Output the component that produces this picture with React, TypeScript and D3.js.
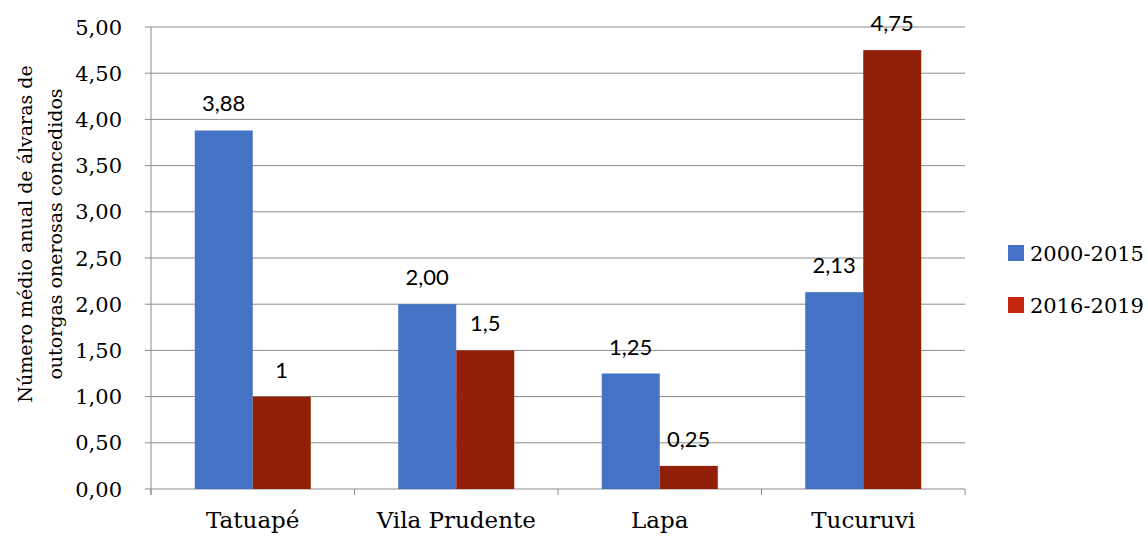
import React from "react";
import * as d3 from "d3";

const categories = ["Tatuapé", "Vila Prudente", "Lapa", "Tucuruvi"];
const series = ["2000-2015", "2016-2019"];
const values2000 = [3.88, 2.0, 1.25, 2.13];
const values2016 = [1, 1.5, 0.25, 4.75];
const labels2000 = ["3,88", "2,00", "1,25", "2,13"];
const labels2016 = ["1", "1,5", "0,25", "4,75"];
const yTicks = [0, 0.5, 1, 1.5, 2, 2.5, 3, 3.5, 4, 4.5, 5];

const W = 1148;
const H = 540;
const left = 151;
const right = 965;
const top = 27;
const bottom = 489;
const barColors = ["#4472C4", "#922008"];
const legendColors = ["#4472C4", "#C5260E"];
const serif = "'Palatino Linotype', 'Book Antiqua', 'DejaVu Serif', serif";
const sans = "Lato, 'Open Sans', sans-serif";

export default function App() {
  const x = d3.scaleBand<string>().domain(categories).range([left, right]).paddingInner(0).paddingOuter(0);
  const y = d3.scaleLinear().domain([0, 5]).range([bottom, top]);
  const inner = d3.scaleBand<string>().domain(series).range([0, x.bandwidth()]).paddingOuter(0.754).paddingInner(0);
  const data = [values2000, values2016];
  const labels = [labels2000, labels2016];
  const fmt = (v: number) => v.toFixed(2).replace(".", ",");
  const grid = "#8C8C8C";

  return (
    <svg width={W} height={H} style={{ position: "absolute", left: 0, top: 0, background: "#fff" }}>
      <rect x={0} y={0} width={W} height={H} fill="#fff" />
      {yTicks.map((t) => (
        <g key={t}>
          <line x1={left - 6} x2={right} y1={y(t)} y2={y(t)} stroke={grid} strokeWidth={1} />
          <text x={122} y={y(t)} dy="0.36em" textAnchor="end" fontFamily={serif} fontSize={21} fill="#000">
            {fmt(t)}
          </text>
        </g>
      ))}
      <line x1={left} x2={left} y1={top} y2={bottom + 6} stroke={grid} strokeWidth={1} />
      {categories.map((c, i) => (
        <line key={"t" + i} x1={x(c)!} x2={x(c)!} y1={bottom} y2={bottom + 6} stroke={grid} />
      ))}
      <line x1={right} x2={right} y1={bottom} y2={bottom + 6} stroke={grid} />
      {series.map((s, si) =>
        categories.map((c, ci) => {
          const bx = x(c)! + inner(s)!;
          const by = y(data[si][ci]);
          return (
            <g key={s + c}>
              <rect x={bx} y={by} width={inner.bandwidth()} height={bottom - by} fill={barColors[si]} />
              <text
                x={bx + inner.bandwidth() / 2}
                y={by - 19}
                textAnchor="middle"
                fontFamily={sans}
                fontSize={22}
                fill="#000"
              >
                {labels[si][ci]}
              </text>
            </g>
          );
        })
      )}
      {categories.map((c) => (
        <text key={c} x={x(c)! + x.bandwidth() / 2} y={528} textAnchor="middle" fontFamily={serif} fontSize={23} fill="#000">
          {c}
        </text>
      ))}
      <g transform="translate(32,234) rotate(-90)">
        <text x={0} y={0} textAnchor="middle" fontFamily={serif} fontSize={19} fill="#000">
          Número médio anual de álvaras de
        </text>
        <text x={0} y={30} textAnchor="middle" fontFamily={serif} fontSize={19} fill="#000">
          outorgas onerosas concedidos
        </text>
      </g>
      {series.map((s, i) => (
        <g key={s} transform={`translate(1008,${245 + i * 52})`}>
          <rect x={0} y={0} width={16} height={16} fill={legendColors[i]} />
          <text x={22} y={8} dy="0.36em" fontFamily={serif} fontSize={21} fill="#000">
            {s}
          </text>
        </g>
      ))}
    </svg>
  );
}
